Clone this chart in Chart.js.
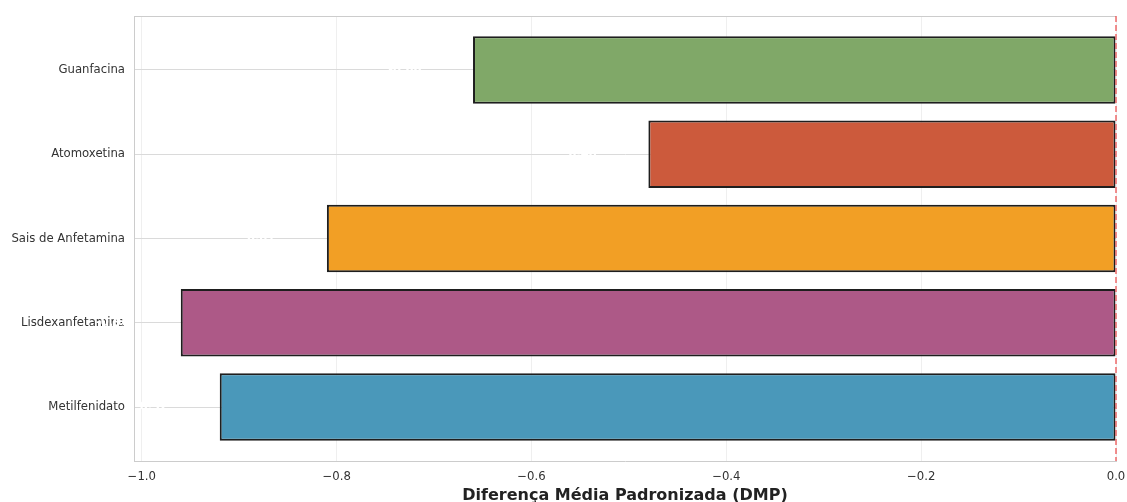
<!DOCTYPE html>
<html>
<head>
<meta charset="utf-8">
<script src="https://cdn.jsdelivr.net/npm/chart.js@4"></script>
<style>
  html, body { margin: 0; padding: 0; background: #ffffff; }
  #wrap { width: 1127px; height: 502px; }
</style>
</head>
<body>
<div id="wrap"><canvas id="c" width="1127" height="502"></canvas></div>
<script>
// Categories listed bottom-to-top (matching the plot's vertical order)
const categories = ["Metilfenidato", "Lisdexanfetamina", "Sais de Anfetamina", "Atomoxetina", "Guanfacina"];
const smdValues = [-0.92, -0.96, -0.81, -0.48, -0.66];
const barColors = ["#4a98ba", "#ad5987", "#f29f25", "#cc5a3c", "#80a868"];
const xTickValues = [-1.0, -0.8, -0.6, -0.4, -0.2, 0.0];
const xAxisTitle = "Diferença Média Padronizada (DMP)";

const FONT = "'DejaVu Sans', 'Liberation Sans', sans-serif";

const fmtMinus = v => (Math.abs(v) < 1e-9 ? "0.0" : v.toFixed(1).replace("-", "\u2212"));

const extrasPlugin = {
  id: "extras",
  beforeDatasetsDraw(chart) {
    const { ctx, chartArea } = chart;
    ctx.save();
    ctx.strokeStyle = "#cccccc";
    ctx.lineWidth = 1;
    ctx.beginPath();
    ctx.moveTo(chartArea.left, chartArea.top + 0.5);
    ctx.lineTo(chartArea.right, chartArea.top + 0.5);
    ctx.stroke();
    ctx.restore();
  },
  afterDatasetsDraw(chart) {
    const { ctx, chartArea, scales } = chart;
    const xs = scales.x, ys = scales.y;
    ctx.save();
    // value labels (white, bold) placed left of each bar end
    ctx.fillStyle = "#ffffff";
    ctx.font = "bold 11.5px " + FONT;
    ctx.textAlign = "center";
    ctx.textBaseline = "middle";
    smdValues.forEach((v, i) => {
      const px = xs.getPixelForValue(v - 0.07);
      const py = ys.getPixelForValue(i);
      ctx.fillText(v.toFixed(2), px, py);
    });
    // reference line at zero
    const x0 = xs.getPixelForValue(0);
    ctx.strokeStyle = "rgba(235, 70, 70, 0.75)";
    ctx.lineWidth = 1.6;
    ctx.setLineDash([6, 3]);
    ctx.beginPath();
    ctx.moveTo(x0, chartArea.top);
    ctx.lineTo(x0, chartArea.bottom);
    ctx.stroke();
    ctx.restore();
  }
};

new Chart(document.getElementById("c"), {
  type: "bar",
  data: {
    datasets: [{
      data: smdValues.map((v, i) => ({ x: v, y: i })),
      backgroundColor: barColors,
      borderColor: "#1e1e1e",
      borderWidth: 2,
      borderSkipped: false,
      categoryPercentage: 1.0,
      barPercentage: 0.8
    }]
  },
  options: {
    indexAxis: "y",
    responsive: false,
    animation: false,
    devicePixelRatio: 1,
    layout: { padding: { left: 0, right: 11, top: 16, bottom: 0 } },
    plugins: { legend: { display: false }, tooltip: { enabled: false } },
    scales: {
      x: {
        type: "linear",
        min: -1.008,
        max: 0,
        afterBuildTicks(scale) { scale.ticks = xTickValues.map(v => ({ value: v })); },
        afterFit(scale) { scale.height = 41; scale.paddingLeft = 0; scale.paddingRight = 0; },
        grid: { color: "#efefef", lineWidth: 1, drawTicks: false },
        border: { display: true, color: "#cccccc", width: 1 },
        ticks: {
          padding: 9,
          color: "#333333",
          font: { family: FONT, size: 11.7 },
          callback: v => fmtMinus(v),
          maxRotation: 0
        },
        title: {
          display: true,
          text: xAxisTitle,
          color: "#222222",
          font: { family: FONT, size: 16, weight: "bold" },
          padding: { top: 0, bottom: -3 }
        }
      },
      y: {
        type: "linear",
        min: -0.64,
        max: 4.64,
        offset: false,
        afterBuildTicks(scale) { scale.ticks = categories.map((c, i) => ({ value: i })); },
        afterFit(scale) { scale.width = 134; scale.paddingTop = 0; scale.paddingBottom = 0; },
        grid: { color: "#dadada", lineWidth: 1, drawTicks: false, offset: false },
        border: { display: true, color: "#cccccc", width: 1 },
        ticks: {
          padding: 9,
          color: "#333333",
          font: { family: FONT, size: 11.7 },
          callback: v => categories[Math.round(v)] || ""
        }
      }
    }
  },
  plugins: [extrasPlugin]
});
</script>
</body>
</html>
